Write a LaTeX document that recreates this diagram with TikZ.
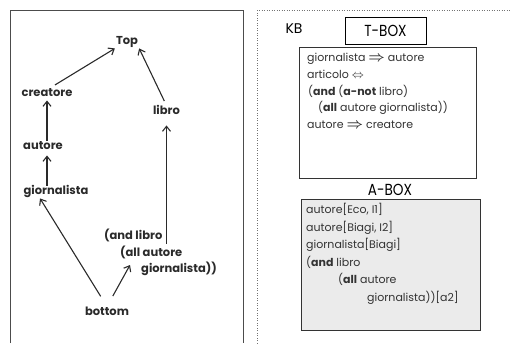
\documentclass[tikz,border=0pt]{standalone}
\usepackage{amsmath}
\usepackage{fontspec}
\setmainfont{Poppins}
\newfontfamily\titlefont[FakeStretch=0.85]{Poppins}
\usetikzlibrary{arrows.meta,calc}
\definecolor{ink}{HTML}{2A2A2A}
\definecolor{txt}{HTML}{333333}
\definecolor{abox}{HTML}{EBEBEB}
\newcommand{\impl}{{\fontsize{14}{14}\selectfont$\boldsymbol{\Rightarrow}$}}
\newcommand{\eqv}{{\fontsize{12}{12}\selectfont$\Leftrightarrow$}}
\tikzset{
  concept/.style={font=\fontsize{11.5}{13}\selectfont\bfseries, text=ink, inner sep=1pt, text height=8pt, text depth=2.5pt},
  isa/.style={-{Straight Barb[length=5pt,width=8pt,line width=1.1pt]}, line width=1.1pt, draw=ink},
  kbtext/.style={text=txt, inner sep=0pt, anchor=north west, align=left},
  title/.style={font=\titlefont\fontsize{16}{18}\selectfont, text=black, inner sep=0pt},
}
\begin{document}
\begin{tikzpicture}[x=1pt,y=-1pt]
\useasboundingbox (0,0) rectangle (511,343);
% panels
\draw[draw=black!70, line width=0.6pt] (10,343) -- (10,10) -- (243.5,10) -- (243.5,343);
\draw[draw=black!55, dotted, line width=0.5pt] (257,343) -- (257,10) -- (511,10);
% left hierarchy
\node[concept] (top) at (127,42) {Top};
\node[concept] (creatore) at (47,94) {creatore};
\node[concept] (libro) at (166.5,112) {libro};
\node[concept] (autore) at (43,147) {autore};
\node[concept] (giorn) at (56,192) {giornalista};
\node[concept, anchor=west] (and1) at (103,237) {(and libro};
\node[concept, anchor=west] (and2) at (119,254) {(all autore};
\node[concept, anchor=west] (and3) at (140,270) {giornalista))};
\node[concept] (bottom) at (107,313) {bottom};
\coordinate (andin) at ($(and3.west)+(-10,-5)$);
\draw[isa, shorten <=5pt] (creatore.60) -- (top.south west);
\draw[isa, shorten <=5pt] (libro.north) -- (top.south east);
\draw[isa] (creatore.south |- autore.north) -- (creatore.south);
\draw[isa, shorten >=2pt] (creatore.south |- giorn.north) -- (creatore.south |- autore.south);
\draw[isa, shorten <=12pt] (bottom.north) -- (giorn.202);
\draw[isa, shorten <=12pt] (bottom.north) -- (andin);
\draw[isa, shorten <=4pt, shorten >=7pt] (and2.north -| libro.south) -- (libro.south);
% right: KB
\node[inner sep=0pt, font=\fontsize{14}{16}\selectfont] (kb) at (294,29) {KB};
\node[title, draw=black, line width=0.6pt, minimum width=81pt, minimum height=27pt] (tbox) at (385.5,30.5) {T-BOX};
\node[draw=black!80, fill=white, line width=0.6pt, minimum width=177pt, minimum height=131pt, inner sep=0pt] (tcont) at (387.5,112.5) {};
\node[kbtext, font=\fontsize{11}{16.8}\selectfont] (ttext) at (307,53) {giornalista \impl{} autore\\
articolo \eqv\\
\hspace{1pt}(\textbf{and} (\textbf{a-not} libro)\\
\hspace{11pt}(\textbf{all} autore giornalista))\\
autore \impl{} creatore};
\node[title] (abl) at (390,190) {A-BOX};
\node[draw=black!80, fill=abox, line width=0.6pt, minimum width=179pt, minimum height=131pt, inner sep=0pt] (acont) at (390.5,264.5) {};
\node[kbtext, font=\fontsize{11}{17.6}\selectfont] (atext) at (306,203) {autore[Eco, I1]\\
autore[Biagi, I2]\\
giornalista[Biagi]\\
(\textbf{and} libro\\
\hspace{32pt}(\textbf{all} autore\\
\hspace{61pt}giornalista))[a2]};
\end{tikzpicture}
\end{document}
